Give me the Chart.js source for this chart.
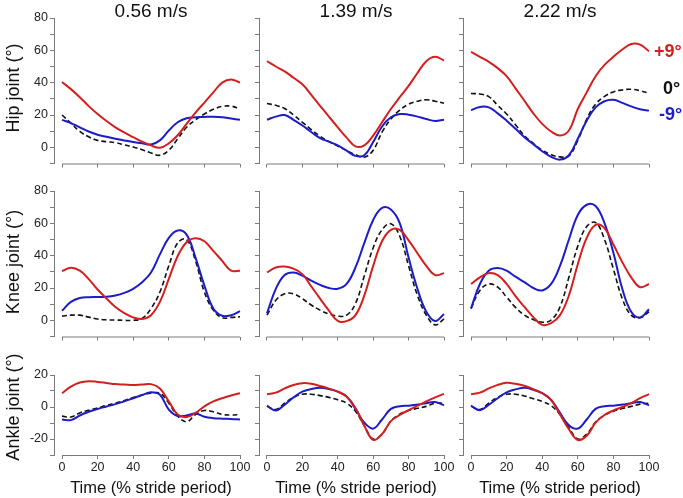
<!DOCTYPE html>
<html>
<head>
<meta charset="utf-8">
<script src="https://cdn.jsdelivr.net/npm/chart.js@4.4.1/dist/chart.umd.min.js"></script>
<style>
  html, body { margin: 0; padding: 0; background: #fff; }
  body { width: 683px; height: 498px; position: relative; overflow: hidden; font-family: 'Liberation Sans', Arial, sans-serif; }
  canvas { position: absolute; }
  .lbl { position: absolute; white-space: nowrap; color: #111; }
  .title { font-size: 19px; transform: translate(-50%, -50%); }
  .ytitle { font-size: 18px; transform: translate(-50%, -50%) rotate(-90deg); }
  .xtitle { font-size: 16.5px; transform: translate(-50%, -50%); }
  .legend { font-size: 18px; font-weight: bold; transform: translateY(-50%); }
</style>
</head>
<body>
<script>
const speeds = ['0.56 m/s', '1.39 m/s', '2.22 m/s'];
const joints = ['Hip joint (°)', 'Knee joint (°)', 'Ankle joint (°)'];
const xTitle = 'Time (% stride period)';
const legendLabels = ['+9°', '0°', '-9°'];
const xTicks = [0, 20, 40, 60, 80, 100];
const yRanges = [[-10, 80], [-10, 80], [-30, 20]];

const T = [0, 5, 10, 15, 20, 25, 30, 35, 40, 45, 50, 55, 60, 65, 70, 75, 80, 85, 90, 95, 100];

// hip
const hip056Pos  = [40.4, 36, 31, 25.5, 20.6, 16.3, 12.4, 9.2, 6.3, 3.5, 1.2, -0.3, 2.5, 7.5, 14.5, 21.5, 27.7, 34, 40, 42, 40];
const hip056Zero = [20, 15, 9.8, 6.5, 4.3, 3.5, 2.9, 1.5, 0.2, -1.5, -3.5, -4.9, -1.8, 5.3, 12.4, 17, 20.6, 23.5, 25.3, 25.5, 23.7];
const hip056Neg  = [17, 15, 12.4, 9.8, 7.8, 6.5, 5.3, 4.2, 3.3, 2.5, 1.8, 4.3, 10.4, 15.5, 18, 18.6, 18.8, 18.9, 18.6, 17.8, 17];
const hip139Pos  = [53.3, 50, 47, 43, 39, 32.5, 25.7, 19, 12.4, 6, 0.6, 1.2, 7.3, 15.5, 23.7, 31, 38, 46, 53.3, 56, 53.7];
const hip139Zero = [27.1, 26, 24, 20, 15.5, 11, 6.9, 3.5, 0.8, -2, -4.5, -6.1, -1.8, 9.4, 17.5, 23, 26.7, 28.5, 29.4, 28.5, 27.3];
const hip139Neg  = [17.1, 19, 20, 17, 13.5, 9.5, 5.7, 3.5, 1.2, -2, -5.3, -4.9, 3.3, 12.9, 18.6, 20.6, 20.2, 19, 17.5, 16.3, 17.1];
const hip222Pos  = [59, 56, 52.9, 49, 44, 36.5, 28.8, 21, 14.5, 9.8, 7.3, 10.4, 23.7, 34, 44, 51, 56, 60.5, 63.9, 63.5, 59.4];
const hip222Zero = [33.3, 33, 31.4, 26, 20.6, 14, 7.3, 2.5, -1.8, -4.5, -5.9, -5.3, 4.3, 17.5, 26.7, 31.5, 34.3, 35.5, 35.9, 35, 33.5];
const hip222Neg  = [23, 25, 24.7, 21, 16.5, 11.5, 6.3, 2, -2.4, -5.9, -7.6, -4.9, 5.3, 16.5, 24.7, 28.5, 29.4, 27.5, 25.3, 23.5, 22.7];

// knee
const knee056Pos  = [30.5, 32.5, 30.7, 25.5, 19.1, 13.5, 8.3, 4.5, 1.8, 0.8, 3.2, 11.4, 25.6, 39.8, 48.3, 50.8, 48.9, 43, 36.8, 30.7, 30.7];
const knee056Zero = [2.6, 3.2, 3.2, 2, 0.8, 0.3, 0.2, 0, 0, 1.2, 7.3, 17.5, 33.7, 47.9, 50, 36.8, 17.5, 6.3, 1.6, 1.8, 2.2];
const knee056Neg  = [5.9, 11.4, 13.8, 14.3, 14.4, 14.6, 15.4, 17, 19.5, 23.5, 29.6, 40.8, 51, 55.6, 53, 38.8, 21.5, 7.3, 2.8, 3.2, 5.7];
const knee139Pos  = [29.6, 32.7, 33.3, 32, 28.6, 21, 13.4, 6, -0.4, -0.5, 3.2, 15.4, 33.7, 48.9, 56, 56, 49.5, 41.5, 33.7, 28, 29.2];
const knee139Zero = [3.2, 12.4, 16.4, 16.4, 13.4, 9.5, 6.3, 4, 2.6, 3.2, 10.4, 27.6, 44.9, 56, 59.7, 52, 33.7, 15.4, 3.2, -2.8, 0.8];
const knee139Neg  = [4.3, 19.5, 28, 29.6, 27.6, 24.5, 21.9, 20, 19.5, 22.5, 32.7, 47.9, 62.1, 69.5, 68.6, 60.1, 38.8, 19.5, 5.3, -0.4, 3.9];
const knee222Pos  = [22.5, 26.6, 29.2, 28, 22.5, 15, 8.3, 2, -2.8, -1.8, 3.2, 15.4, 34.7, 51, 59.1, 57, 46.9, 36, 26.6, 20.5, 22.5];
const knee222Zero = [7.3, 18.5, 22.5, 20.5, 14.4, 8, 3.2, 0.5, -1.2, 0.2, 8.3, 26.6, 45.9, 58, 60.5, 50, 31.7, 13.4, 3.2, 1.6, 5.3];
const knee222Neg  = [7.3, 22.5, 30.7, 32.3, 30.7, 27, 23.6, 20, 18.5, 22.5, 33.7, 50, 65.2, 71.5, 70.7, 60.1, 41.8, 19.5, 5.3, 1.8, 6.9];

// ankle
const ankle056Pos  = [8.6, 12.7, 15.3, 16.1, 15.7, 15, 14.3, 14, 13.7, 14, 14.3, 11.6, 3.5, -4.7, -6.3, -3.7, 0.4, 3.5, 5.5, 7.2, 8.6];
const ankle056Zero = [-5.7, -6.3, -3.7, -2, -0.6, 1, 2.4, 4, 5.9, 7.5, 8.6, 8.6, 2.4, -5.7, -9.2, -4.7, -2.2, -3, -4.7, -5, -4.7];
const ankle056Neg  = [-7.8, -8.2, -5.3, -3, -1.2, 0.3, 1.8, 3.5, 5.5, 7.5, 9.2, 7.6, -1.6, -5.7, -5.3, -4.1, -6.1, -7, -7.3, -7.5, -7.8];
const ankle139Pos  = [8, 9, 11.6, 13.8, 14.9, 14.5, 13.1, 11.5, 9.6, 6.5, -0.6, -11.8, -20.5, -16.9, -8.8, -5, -2, 0.8, 3.5, 6, 8.2];
const ankle139Zero = [0.4, -1.6, 2.4, 6, 8, 8, 7.1, 6, 4.5, 2.4, -2.7, -11.8, -20, -16.9, -8.8, -4.5, -2.2, -0.8, 0.4, 2.4, 2.4];
const ankle139Neg  = [0.8, -2.2, 1.4, 6, 9.6, 11.2, 12, 11.2, 9.6, 6.5, -1.2, -9.8, -13.5, -7.8, -1.2, 0.5, 0.8, 1.5, 2.4, 3.1, 1];
const ankle222Pos  = [8, 9, 11.6, 13.8, 15.1, 14.5, 13.3, 11.2, 8.6, 4.5, -4.7, -13.9, -20.6, -18, -9.8, -5, -2.2, 0, 2.4, 5.5, 8];
const ankle222Zero = [0.4, -1.6, 2.4, 6, 8, 8, 6.9, 5.2, 3.5, 0.8, -4.7, -12.9, -20, -16.9, -9.4, -5, -2.7, -1, 0.4, 1.8, 2.4];
const ankle222Neg  = [0.8, -2, 1.4, 5.5, 9.2, 11, 12, 10.8, 8.6, 4.5, -3.7, -11.4, -13.5, -7.8, -1.2, 0.5, 0.8, 1.5, 2.4, 3.1, 1];

const grid = [
  [[hip056Pos, hip056Zero, hip056Neg], [hip139Pos, hip139Zero, hip139Neg], [hip222Pos, hip222Zero, hip222Neg]],
  [[knee056Pos, knee056Zero, knee056Neg], [knee139Pos, knee139Zero, knee139Neg], [knee222Pos, knee222Zero, knee222Neg]],
  [[ankle056Pos, ankle056Zero, ankle056Neg], [ankle139Pos, ankle139Zero, ankle139Neg], [ankle222Pos, ankle222Zero, ankle222Neg]]
];

const RED = '#d41f1f', BLUE = '#1c1cc8', BLACK = '#111';
const AXIS = '#7a7a7a';
const FONT = "'Liberation Sans', Arial, sans-serif";

// layout of the panels (pixels in the page)
const cols = [{ axisX: 54, right: 240, cx: 151 }, { axisX: 259, right: 444, cx: 356 }, { axisX: 463, right: 649, cx: 560 }];
const rows = [{ top: 18, bottom: 165, cy: 88 }, { top: 191, bottom: 338, cy: 262 }, { top: 375, bottom: 455, cy: 407 }];

const xAxisLine = {
  id: 'xAxisLine',
  afterDraw(chart) {
    const x = chart.scales.x, ctx = chart.ctx;
    const y = chart.chartArea.bottom + 0.5;
    ctx.save();
    ctx.strokeStyle = AXIS;
    ctx.lineWidth = 1;
    ctx.beginPath();
    ctx.moveTo(x.getPixelForValue(0), y);
    ctx.lineTo(x.getPixelForValue(100), y);
    ctx.stroke();
    ctx.restore();
  }
};

function addLabel(text, cls, x, y, color) {
  const d = document.createElement('div');
  d.className = 'lbl ' + cls;
  d.textContent = text;
  d.style.left = x + 'px';
  d.style.top = y + 'px';
  if (color) d.style.color = color;
  document.body.appendChild(d);
}

const PAD_TOP = 10, PAD_RIGHT = 14, YW = 44;

rows.forEach((row, r) => {
  cols.forEach((col, c) => {
    const xh = r === 2 ? 26 : 8;
    const left = col.axisX - YW;
    const top = row.top - PAD_TOP;
    const w = col.right - left + PAD_RIGHT;
    const h = row.bottom - top + xh;
    const cv = document.createElement('canvas');
    cv.width = w; cv.height = h;
    cv.style.left = left + 'px';
    cv.style.top = top + 'px';
    cv.style.width = w + 'px';
    cv.style.height = h + 'px';
    document.body.appendChild(cv);

    const [pos, zero, neg] = grid[r][c];
    const mk = (vals, color, dash, width) => ({
      data: T.map((t, i) => ({ x: t, y: vals[i] })),
      borderColor: color,
      borderWidth: width,
      borderDash: dash,
      pointRadius: 0,
      fill: false,
      tension: 0.4,
      clip: false
    });

    new Chart(cv, {
      type: 'line',
      data: {
        datasets: [
          mk(pos, RED, [], 2),
          mk(neg, BLUE, [], 2),
          mk(zero, BLACK, [5, 3], 1.6)
        ]
      },
      options: {
        responsive: false,
        animation: false,
        devicePixelRatio: 1,
        layout: { padding: { top: PAD_TOP, right: PAD_RIGHT, left: 0, bottom: 0 } },
        plugins: { legend: { display: false }, tooltip: { enabled: false } },
        scales: {
          x: {
            type: 'linear',
            min: -4.5,
            max: 100,
            afterBuildTicks: s => { s.ticks = xTicks.map(v => ({ value: v })); },
            afterFit: s => { s.height = xh; },
            border: { display: false },
            grid: { drawOnChartArea: false, drawTicks: true, tickLength: 4, color: AXIS },
            ticks: {
              display: r === 2,
              autoSkip: false,
              padding: 1,
              color: '#222',
              font: { family: FONT, size: 12.5 },
              maxRotation: 0,
              callback: v => String(v)
            }
          },
          y: {
            min: yRanges[r][0],
            max: yRanges[r][1],
            afterFit: s => { s.width = YW; },
            border: { display: true, color: AXIS },
            grid: { drawOnChartArea: false, drawTicks: true, tickLength: 4, color: AXIS },
            ticks: {
              stepSize: 10,
              autoSkip: false,
              padding: 2,
              color: '#222',
              font: { family: FONT, size: 12.5 },
              callback: v => (c === 0 && v % 20 === 0) ? String(v) : ''
            }
          }
        }
      },
      plugins: [xAxisLine]
    });
  });
});

speeds.forEach((s, c) => addLabel(s, 'title', cols[c].cx, 10.5));
joints.forEach((j, r) => addLabel(j, 'ytitle', 13, rows[r].cy));
cols.forEach(col => addLabel(xTitle, 'xtitle', col.cx, 487));
addLabel(legendLabels[0], 'legend', 654, 51, RED);
addLabel(legendLabels[1], 'legend', 663, 88, BLACK);
addLabel(legendLabels[2], 'legend', 659, 114, BLUE);
</script>
</body>
</html>
